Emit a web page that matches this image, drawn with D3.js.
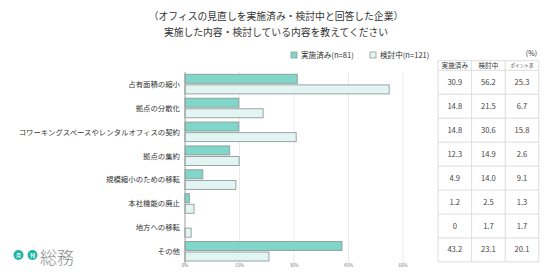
<!DOCTYPE html>
<html>
<head>
<meta charset="utf-8">
<script src="https://cdn.jsdelivr.net/npm/d3@7"></script>
<style>
  body { margin: 0; background: #fff; }
  svg { display: block; font-family: "Noto Sans CJK JP", "Noto Sans", sans-serif; }
</style>
</head>
<body>
<div id="chart"></div>
<script>
// data
const categories = ['占有面積の縮小', '拠点の分散化', 'コワーキングスペースやレンタルオフィスの契約', '拠点の集約',
  '規模縮小のための移転', '本社機能の廃止', '地方への移転', 'その他'];
const implemented = [30.9, 14.8, 14.8, 12.3, 4.9, 1.2, 0, 43.2];
const considering = [56.2, 21.5, 30.6, 14.9, 14.0, 2.5, 1.7, 23.1];
const pointDiff = [25.3, 6.7, 15.8, 2.6, 9.1, 1.3, 1.7, 20.1];
const xTicks = [0, 15, 30, 45, 60];
const tableHeaders = ['実施済み', '検討中', 'ポイント差'];
const legendLabels = ['実施済み(n=81)', '検討中(n=121)'];
const titleLines = ['（オフィスの見直しを実施済み・検討中と回答した企業）', '実施した内容・検討している内容を教えてください'];

const W = 554, H = 278;
const teal = '#80d6c9', pale = '#e2f5f3', barStroke = '#8f9b99';

const svg = d3.select('#chart').append('svg')
  .attr('width', W).attr('height', H);

// title
svg.selectAll('.title').data(titleLines).enter().append('text')
  .attr('x', 276).attr('y', (d, i) => 20 + i * 16)
  .attr('text-anchor', 'middle')
  .attr('font-size', '9.8px')
  .attr('fill', '#333')
  .text(d => d);

// scales
const x = d3.scaleLinear().domain([0, 60]).range([185, 403]);
const y = d3.scaleBand().domain(categories).range([72, 263]);

// grid
svg.selectAll('.grid').data(xTicks.slice(1)).enter().append('line')
  .attr('x1', d => x(d)).attr('x2', d => x(d))
  .attr('y1', 72).attr('y2', 263)
  .attr('stroke', '#e6e6e6').attr('stroke-width', 0.8);

// bars
const barH = 9;
svg.selectAll('.bar-done').data(categories).enter()
  .filter((d, i) => implemented[i] > 0)
  .append('rect')
  .attr('x', x(0))
  .attr('y', d => y(d) + 2.3)
  .attr('width', d => x(implemented[categories.indexOf(d)]) - x(0))
  .attr('height', barH)
  .attr('fill', teal).attr('stroke', barStroke).attr('stroke-width', 0.9);

svg.selectAll('.bar-cons').data(categories).enter().append('rect')
  .attr('x', x(0))
  .attr('y', d => y(d) + 2.3 + barH + 1.6)
  .attr('width', (d, i) => x(considering[i]) - x(0))
  .attr('height', barH)
  .attr('fill', pale).attr('stroke', barStroke).attr('stroke-width', 0.9);

// axis line at 0
svg.append('line')
  .attr('x1', x(0)).attr('x2', x(0)).attr('y1', 72).attr('y2', 263)
  .attr('stroke', '#9a9a9a').attr('stroke-width', 1);

// x tick labels
svg.selectAll('.xt').data(xTicks).enter().append('text')
  .attr('x', d => x(d)).attr('y', 267)
  .attr('text-anchor', 'middle')
  .attr('font-size', '4.5px').attr('fill', '#777')
  .text(d => d + '%');

// category labels
svg.selectAll('.cat').data(categories).enter().append('text')
  .attr('x', 180).attr('y', d => y(d) + y.bandwidth() / 2 + 1)
  .attr('text-anchor', 'end').attr('dominant-baseline', 'middle')
  .attr('font-size', '7.4px').attr('fill', '#333')
  .text(d => d);

// legend
const legend = svg.append('g');
const legX = [291, 370];
[teal, pale].forEach((c, i) => {
  legend.append('rect')
    .attr('x', legX[i]).attr('y', 52).attr('width', 6).attr('height', 6)
    .attr('fill', c).attr('stroke', barStroke).attr('stroke-width', 0.8);
  legend.append('text')
    .attr('x', legX[i] + 10).attr('y', 55.5)
    .attr('dominant-baseline', 'middle')
    .attr('font-size', '7.6px').attr('fill', '#333')
    .text(legendLabels[i]);
});

// table
const tx = 438, colW = 33.6, headTop = 60.7, headBottom = 70.3, rowH = 23.95;
const tbl = svg.append('g');
svg.append('text')
  .attr('x', 537).attr('y', 56)
  .attr('text-anchor', 'end').attr('font-size', '7px').attr('fill', '#333')
  .text('(%)');

tableHeaders.forEach((h, j) => {
  tbl.append('text')
    .attr('x', tx + colW * j + colW / 2).attr('y', (headTop + headBottom) / 2 + 0.5)
    .attr('text-anchor', 'middle').attr('dominant-baseline', 'middle')
    .attr('font-size', j === 2 ? '4.6px' : '6.6px').attr('fill', '#333')
    .text(h);
});

const cols = [implemented, considering, pointDiff];
const fmt = v => v === 0 ? '0' : v.toFixed(1);
categories.forEach((c, i) => {
  cols.forEach((arr, j) => {
    tbl.append('text')
      .attr('x', tx + colW * j + colW / 2)
      .attr('y', headBottom + rowH * i + rowH / 2 + 0.5)
      .attr('text-anchor', 'middle').attr('dominant-baseline', 'middle')
      .attr('font-size', '7.6px').attr('fill', '#444')
      .text(fmt(arr[i]));
  });
});

const tblBottom = headBottom + rowH * categories.length;
const hLines = [headTop, headBottom].concat(categories.map((c, i) => headBottom + rowH * (i + 1)));
tbl.selectAll('.hl').data(hLines).enter().append('line')
  .attr('x1', tx).attr('x2', tx + colW * 3)
  .attr('y1', d => d).attr('y2', d => d)
  .attr('stroke', '#d4d4d4').attr('stroke-width', 0.8);
tbl.selectAll('.vl').data([0, 1, 2, 3]).enter().append('line')
  .attr('x1', d => tx + colW * d).attr('x2', d => tx + colW * d)
  .attr('y1', headTop).attr('y2', tblBottom)
  .attr('stroke', '#d4d4d4').attr('stroke-width', 0.8);

// logo
const logo = svg.append('g');
['月', '刊'].forEach((ch, i) => {
  logo.append('circle')
    .attr('cx', 18.5 + i * 14).attr('cy', 255).attr('r', 5)
    .attr('fill', '#1fb5a2');
  logo.append('text')
    .attr('x', 18.5 + i * 14).attr('y', 255.3)
    .attr('text-anchor', 'middle').attr('dominant-baseline', 'middle')
    .attr('font-size', '5px').attr('font-weight', 'bold').attr('fill', '#fff')
    .text(ch);
});
logo.append('text')
  .attr('x', 40).attr('y', 259.5)
  .attr('dominant-baseline', 'middle')
  .attr('font-size', '17px').attr('font-weight', 300).attr('fill', '#8a8a8a')
  .text('総務');
</script>
</body>
</html>
